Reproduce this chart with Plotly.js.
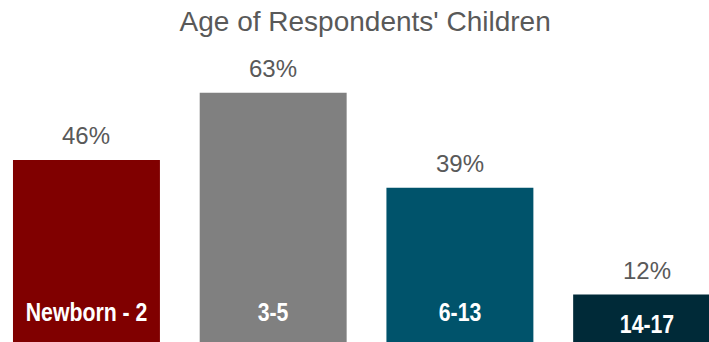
<!DOCTYPE html>
<html>
<head>
<meta charset="utf-8">
<script src="https://cdn.plot.ly/plotly-3.0.1.min.js"></script>
<style>html,body{margin:0;padding:0;background:#fff;}#chart{width:709px;height:342px;}</style>
</head>
<body>
<div id="chart"></div>
<script>
const categories = ["Newborn - 2", "3-5", "6-13", "14-17"];
const values = [46, 63, 39, 12];
const valueLabels = ["46%", "63%", "39%", "12%"];
const barColors = ["#800000", "#808080", "#00536b", "#002a38"];
const chartTitle = "Age of Respondents' Children";

const catLabelY = [7.6, 7.6, 7.6, 4.5];

const annotations = [];
categories.forEach((c, i) => {
  annotations.push({
    x: c, y: values[i], xref: 'x', yref: 'y', text: valueLabels[i],
    showarrow: false, yanchor: 'middle', yshift: 24,
    font: {family: 'Arial, "Liberation Sans", sans-serif', size: 24, color: '#595959'}
  });
  annotations.push({
    x: c, y: catLabelY[i], xref: 'x', yref: 'y', text: '<b>' + c + '</b>',
    showarrow: false, yanchor: 'middle',
    font: {family: 'Arial, "Liberation Sans", sans-serif', size: 25, color: '#ffffff'}
  });
});

function condense() {
  document.querySelectorAll('#chart .annotation').forEach(g => {
    const idx = parseInt(g.getAttribute('data-index'), 10);
    if (idx % 2 === 1) {
      const t = g.querySelector('text');
      if (t) {
        t.style.transformBox = 'fill-box';
        t.style.transformOrigin = 'center';
        t.style.transform = 'scaleX(0.85)';
      }
    }
  });
}

Plotly.newPlot('chart', [{
  type: 'bar',
  x: categories,
  y: values,
  marker: {color: barColors},
  width: 0.787,
  hoverinfo: 'none'
}], {
  width: 709, height: 342,
  margin: {l: 0, r: 0, t: 0, b: 0},
  paper_bgcolor: '#ffffff', plot_bgcolor: '#ffffff',
  title: {text: chartTitle, x: 0.515, xanchor: 'center', y: 0.938, yanchor: 'middle', yref: 'container',
          font: {family: 'Arial, "Liberation Sans", sans-serif', size: 28, color: '#595959'}},
  xaxis: {range: [-0.463, 3.334], showticklabels: false, showgrid: false, zeroline: false, showline: false, ticks: ''},
  yaxis: {range: [0, 86.4], showticklabels: false, showgrid: false, zeroline: false, showline: false, ticks: ''},
  showlegend: false,
  annotations: annotations
}, {displayModeBar: false, staticPlot: true}).then(condense);
</script>
</body>
</html>
